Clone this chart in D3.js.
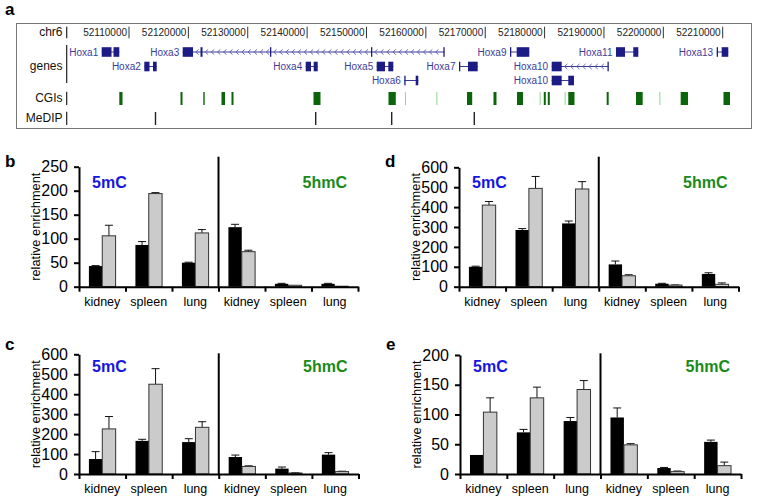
<!DOCTYPE html>
<html><head><meta charset="utf-8">
<script src="https://cdnjs.cloudflare.com/ajax/libs/d3/7.8.5/d3.min.js"></script>
<style>body{margin:0;background:#fff;} svg{display:block;font-family:"Liberation Sans",Arial,sans-serif;}</style>
</head><body><svg id="chart" width="762" height="502"></svg>
<script>
// ===== Panel a : genome browser =====
const coordTicks = [52110000,52120000,52130000,52140000,52150000,52160000,52170000,52180000,52190000,52200000,52210000];
const trackLabels = ["chr6","genes","CGIs","MeDIP"];
const geneNames = ["Hoxa1","Hoxa2","Hoxa3","Hoxa4","Hoxa5","Hoxa6","Hoxa7","Hoxa9","Hoxa10","Hoxa10","Hoxa11","Hoxa13"];
const geneRows  = [0,1,0,1,1,2,1,0,1,2,0,0];
const geneArrows = [false,false,true,false,false,false,false,false,true,false,false,false];
const geneExons = [
  [[52105402,52107052],[52107389,52108366]],
  [[52112577,52113453],[52114042,52114666]],
  [[52119045,52120780],[52122043,52122380],[52133749,52133900],[52150760,52150900],[52162950,52163106]],
  [[52139762,52140654],[52141109,52141783]],
  [[52151720,52153118],[52153675,52154516]],
  [[52156369,52156487],[52158289,52158727]],
  [[52165582,52165750],[52167098,52168731]],
  [[52174172,52174340],[52175300,52177423]],
  [[52181195,52182880],[52190594,52190729]],
  [[52181195,52182880],[52183991,52184951]],
  [[52192025,52193541],[52194941,52195783]],
  [[52208986,52209155],[52209828,52210941]]
];
const cgiStarts = [52108366,52118674,52122514,52125580,52127264,52141075,52153708,52156480,52161770,52166929,52171393,52175351,52179170,52179865,52180539,52183380,52183991,52190459,52195394,52199330,52202923,52210132];
const cgiEnds   = [52108905,52119011,52122750,52126169,52127601,52142254,52154937,52156600,52161890,52167805,52171898,52176361,52179290,52180202,52180875,52183500,52185036,52190796,52196523,52199450,52204152,52211227];
const cgiLight  = [0,0,0,0,0,0,0,1,1,0,0,0,1,0,0,1,0,0,0,1,0,0];
const medipPos  = [52114463,52141446,52154247,52168159];

// ===== Bar panels =====
const tissues = ["kidney","spleen","lung"];
const marks = ["5mC","5hmC"];
const bBlack = [43, 87, 50, 124, 6, 6];
const bBlackErr = [1, 7, 1, 6, 1, 1];
const bGray = [106, 194, 112, 73, 3, 1];
const bGrayErr = [22, 2, 7, 3, 0, 0];
const bTicks = [0,50,100,150,200,250];

const cBlack = [75, 166, 160, 85, 27, 97];
const cBlackErr = [37, 8, 17, 10, 8, 10];
const cGray = [226, 450, 234, 38, 5, 12];
const cGrayErr = [62, 78, 28, 3, 1, 2];
const cTicks = [0,100,200,300,400,500,600];

const dBlack = [100, 285, 318, 112, 15, 64];
const dBlackErr = [3, 7, 12, 17, 2, 6];
const dGray = [410, 494, 491, 55, 8, 12];
const dGrayErr = [18, 60, 37, 5, 1, 7];
const dTicks = [0,100,200,300,400,500,600];

const eBlack = [32, 70, 89, 95, 10, 54];
const eBlackErr = [0, 5, 6, 16, 1, 3];
const eGray = [104, 128, 142, 49, 4, 14];
const eGrayErr = [24, 18, 15, 2, 1, 6];
const eTicks = [0,50,100,150,200];

const svg = d3.select("#chart");
const FONT = '"Liberation Sans",Arial,sans-serif';

// ---------- Panel a ----------
svg.append("text").attr("x",5).attr("y",15).attr("font-size",17).attr("font-weight","bold").text("a");
svg.append("rect").attr("x",16.5).attr("y",23.5).attr("width",735).attr("height",105)
  .attr("fill","none").attr("stroke","#777").attr("stroke-width",1);

const xg = d3.scaleLinear().domain([52110000,52210000]).range([129,722.7]);
const trackY = [35.7, 70, 102, 122];
const trackBar = [[26.7,38.3],[45,83],[91.7,105],[111.7,125]];
trackLabels.forEach((t,i)=>{
  svg.append("text").attr("x",62.5).attr("y",trackY[i]).attr("text-anchor","end")
    .attr("font-size",12).attr("fill","#111").text(t);
  svg.append("line").attr("x1",66.7).attr("x2",66.7).attr("y1",trackBar[i][0]).attr("y2",trackBar[i][1])
    .attr("stroke","#222").attr("stroke-width",1.2);
});
coordTicks.forEach(c=>{
  const x = xg(c);
  svg.append("line").attr("x1",x).attr("x2",x).attr("y1",26.7).attr("y2",38.3).attr("stroke","#333").attr("stroke-width",1);
  svg.append("text").attr("x",x-2).attr("y",35.5).attr("text-anchor","end").attr("font-size",10).attr("fill","#222")
    .text(c);
});
const rowY = [52, 66.5, 80.5];
const navy = "#1c1c84";
geneNames.forEach((g,i)=>{
  const ex = geneExons[i];
  const y = rowY[geneRows[i]];
  const s = xg(ex[0][0]), e = xg(ex[ex.length-1][1]);
  svg.append("line").attr("x1",s).attr("x2",e).attr("y1",y).attr("y2",y).attr("stroke","#3a3a9a").attr("stroke-width",1);
  if (geneArrows[i]) {
    for (let k=0;k<ex.length-1;k++){
      const a = xg(ex[k][1]), b = xg(ex[k+1][0]);
      for (let x=a+4; x<b-2; x+=6.1){
        svg.append("path").attr("d",`M${x+1.6},${y-2.6}L${x-1.2},${y}L${x+1.6},${y+2.6}`)
          .attr("fill","none").attr("stroke","#5858b0").attr("stroke-width",0.9);
      }
    }
  }
  ex.forEach(([a,b])=>{
    const w = Math.max(1.3, xg(b)-xg(a));
    svg.append("rect").attr("x",xg(a)).attr("y",y-4.8).attr("width",w).attr("height",9.6).attr("fill",navy);
  });
  svg.append("text").attr("x",s-3.5).attr("y",y+3.6).attr("text-anchor","end").attr("font-size",10)
    .attr("fill","#3c3c9c").text(g);
});
cgiStarts.forEach((s,i)=>{
  const x0 = xg(s), w = Math.max(1, xg(cgiEnds[i])-x0);
  svg.append("rect").attr("x",x0).attr("y",92).attr("width",w).attr("height",13)
    .attr("fill", cgiLight[i] ? "#8fd68f" : "#0b650b");
});
medipPos.forEach(p=>{
  svg.append("line").attr("x1",xg(p)).attr("x2",xg(p)).attr("y1",112).attr("y2",125)
    .attr("stroke","#222").attr("stroke-width",1.4);
});

// ---------- Bar panels ----------
function panel(cfg){
  const g = svg.append("g");
  const y = d3.scaleLinear().domain([0, cfg.ticks[cfg.ticks.length-1]]).range([cfg.y0, cfg.yTop]);
  const cats = d3.range(6);
  const xb = d3.scaleBand().domain(cats).range([cfg.x0, cfg.x1]).padding(0);
  const xs = d3.scaleBand().domain(["black","gray"]).range([xb.bandwidth()*0.213, xb.bandwidth()*0.787]).padding(0);
  const xl = d3.scaleLinear().domain([0,6]).range([cfg.x0, cfg.x1]);

  // bars
  const series = [["black",cfg.black,cfg.blackErr],["gray",cfg.gray,cfg.grayErr]];
  series.forEach(([k,vals,errs])=>{
    vals.forEach((v,i)=>{
      const bx = xb(i)+xs(k), bw = xs.bandwidth();
      if (errs[i]>0){
        const cx = bx + bw/2;
        g.append("line").attr("x1",cx).attr("x2",cx).attr("y1",y(v)).attr("y2",y(v+errs[i])).attr("stroke","#111").attr("stroke-width",1);
        g.append("line").attr("x1",cx-4).attr("x2",cx+4).attr("y1",y(v+errs[i])).attr("y2",y(v+errs[i])).attr("stroke","#111").attr("stroke-width",1);
      }
      g.append("rect").attr("x",bx).attr("y",y(v)).attr("width",bw).attr("height",Math.max(0,cfg.y0-y(v)))
        .attr("fill", k==="black" ? "#000" : "#cbcbcb")
        .attr("stroke", k==="black" ? "#000" : "#333").attr("stroke-width", k==="black"?0:1);
    });
  });

  // y axis
  const ya = g.append("g").attr("transform",`translate(${cfg.x0},0)`)
    .call(d3.axisLeft(y).tickValues(cfg.ticks).tickSize(5).tickSizeOuter(0).tickPadding(6).tickFormat(d3.format("d")));
  ya.select(".domain").attr("stroke-width",2);
  ya.selectAll(".tick line").attr("stroke-width",2);
  ya.selectAll("text").attr("font-size",16).attr("font-family",FONT).attr("fill","#000");
  // x axis
  const xa = g.append("g").attr("transform",`translate(0,${cfg.y0})`)
    .call(d3.axisBottom(xl).tickValues(d3.range(7)).tickSize(5).tickSizeOuter(0).tickFormat(""));
  xa.select(".domain").attr("stroke-width",2);
  xa.selectAll(".tick line").attr("stroke-width",2);

  // categories
  cats.forEach(i=>{
    g.append("text").attr("x",xb(i)+xb.bandwidth()/2).attr("y",cfg.y0+18.8).attr("text-anchor","middle")
      .attr("font-size",12.5).text(tissues[i%3]);
  });
  // divider
  const mid = xl(3);
  g.append("line").attr("x1",mid).attr("x2",mid).attr("y1",cfg.divTop).attr("y2",cfg.y0).attr("stroke","#000").attr("stroke-width",2);
  // mark labels
  g.append("text").attr("x",cfg.x0+13).attr("y",cfg.markY).attr("font-size",16).attr("font-weight","bold")
    .attr("fill","#1616e0").text(marks[0]);
  g.append("text").attr("x",cfg.x1-11).attr("y",cfg.markY).attr("text-anchor","end").attr("font-size",16).attr("font-weight","bold")
    .attr("fill","#1a8a1a").text(marks[1]);
  // y label
  g.append("text").attr("transform",`translate(${cfg.x0-39.5},${(cfg.y0+cfg.yTop)/2}) rotate(-90)`)
    .attr("text-anchor","middle").attr("font-size",12.8).text("relative enrichment");
  // panel letter
  g.append("text").attr("x",cfg.x0-74).attr("y",cfg.letterY).attr("font-size",17).attr("font-weight","bold").text(cfg.letter);
}

panel({letter:"b", x0:79, x1:358, yTop:166.7, y0:286.7, divTop:156.7, markY:188.3, letterY:166.5,
  ticks:bTicks, black:bBlack, blackErr:bBlackErr, gray:bGray, grayErr:bGrayErr});
panel({letter:"d", x0:459, x1:738.5, yTop:167.3, y0:286.7, divTop:156.7, markY:188.3, letterY:166.5,
  ticks:dTicks, black:dBlack, blackErr:dBlackErr, gray:dGray, grayErr:dGrayErr});
panel({letter:"c", x0:79, x1:358.5, yTop:354.3, y0:474, divTop:353.3, markY:371.5, letterY:349.5,
  ticks:cTicks, black:cBlack, blackErr:cBlackErr, gray:cGray, grayErr:cGrayErr});
panel({letter:"e", x0:460, x1:741, yTop:355, y0:474, divTop:353.3, markY:371.5, letterY:349.5,
  ticks:eTicks, black:eBlack, blackErr:eBlackErr, gray:eGray, grayErr:eGrayErr});
</script></body></html>
